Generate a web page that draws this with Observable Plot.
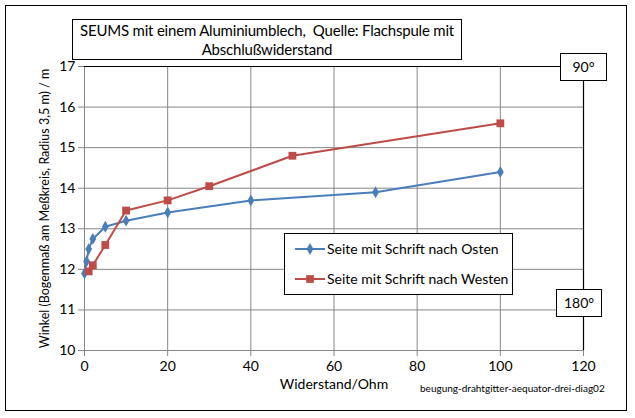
<!DOCTYPE html>
<html>
<head>
<meta charset="utf-8">
<script src="https://cdn.jsdelivr.net/npm/d3@7"></script>
<script src="https://cdn.jsdelivr.net/npm/@observablehq/plot@0.6"></script>
<style>
  html, body { margin: 0; padding: 0; background: #fff; }
  #wrap { position: relative; width: 635px; height: 418px; font-family: Lato, "Open Sans", sans-serif; }
  #wrap svg { position: absolute; left: 0; top: 0; }
  .box { position: absolute; background: #fff; border: 1.3px solid #000; box-sizing: border-box; color: #000; white-space: pre; }
  #outer { position: absolute; left: 5px; top: 5px; width: 622px; height: 406px; border: 1.5px solid #000; box-sizing: border-box; }
</style>
</head>
<body>
<div id="wrap">
  <div id="outer"></div>
</div>
<script>
const titleLines = ["SEUMS mit einem Aluminiumblech,  Quelle: Flachspule mit", "Abschlußwiderstand"];
const seriesNames = ["Seite mit Schrift nach Osten", "Seite mit Schrift nach Westen"];
const eastX = [0, 0.5, 1, 2, 5, 10, 20, 40, 70, 100];
const eastY = [11.9, 12.2, 12.5, 12.75, 13.05, 13.2, 13.4, 13.7, 13.9, 14.4];
const westX = [1, 2, 5, 10, 20, 30, 50, 100];
const westY = [11.95, 12.1, 12.6, 13.45, 13.7, 14.05, 14.8, 15.6];
const xTicks = [0, 20, 40, 60, 80, 100, 120];
const yTicks = [10, 11, 12, 13, 14, 15, 16, 17];
const xLabel = "Widerstand/Ohm";
const yLabel = "Winkel (Bogenmaß am Meßkreis, Radius 3,5 m) / m";
const topNote = "90°";
const bottomNote = "180°";
const caption = "beugung-drahtgitter-aequator-drei-diag02";

const blue = "#4a7ebb", red = "#be4b48", grid = "#868686";
const east = eastX.map((x, i) => ({x, y: eastY[i]}));
const west = westX.map((x, i) => ({x, y: westY[i]}));

const chart = Plot.plot({
  width: 635, height: 418,
  marginLeft: 84, marginRight: 52, marginTop: 66, marginBottom: 68,
  style: {fontFamily: "Lato, 'Open Sans', sans-serif", fontSize: "14px", color: "#000", background: "transparent"},
  x: {domain: [0, 120], ticks: xTicks, label: null},
  y: {domain: [10, 17], ticks: yTicks, label: null},
  marks: [
    Plot.gridX(xTicks, {stroke: grid, strokeOpacity: 1, strokeWidth: 1}),
    Plot.gridY(yTicks, {stroke: grid, strokeOpacity: 1, strokeWidth: 1}),
    Plot.ruleX([0], {stroke: grid}),
    Plot.ruleY([10], {stroke: grid}),
    Plot.ruleX([120], {stroke: "#000", strokeWidth: 1.2}),
    Plot.ruleY([17], {stroke: "#000", strokeWidth: 1.2}),
    Plot.axisX({ticks: xTicks, tickFormat: d3.format("d"), tickSize: 6, tickPadding: 5, stroke: grid, fontSize: 14, label: xLabel, labelAnchor: "center", labelArrow: "none", labelOffset: 38}),
    Plot.axisY({ticks: yTicks, tickFormat: d3.format("d"), tickSize: 6, tickPadding: 3, stroke: grid, fontSize: 14, label: null}),
    Plot.axisY({ticks: [], tickSize: 0, label: yLabel, labelAnchor: "center", labelArrow: "none", labelOffset: 44, fontSize: 12.5}),
    Plot.line(east, {x: "x", y: "y", stroke: blue, strokeWidth: 2}),
    Plot.dot(east, {x: "x", y: "y", symbol: "diamond", r: 3.6, fill: blue}),
    Plot.line(west, {x: "x", y: "y", stroke: red, strokeWidth: 2}),
    Plot.dot(west, {x: "x", y: "y", symbol: "square", r: 4.4, fill: red})
  ]
});
chart.querySelectorAll("text").forEach(t => t.setAttribute("fill", "#000"));
const wrap = document.getElementById("wrap");
wrap.appendChild(chart);

function addBox(left, top, w, h, html, extra) {
  const d = document.createElement("div");
  d.className = "box";
  Object.assign(d.style, {left: left + "px", top: top + "px", width: w + "px", height: h + "px"}, extra || {});
  d.textContent = html;
  wrap.appendChild(d);
  return d;
}
addBox(72, 19, 390, 41, titleLines.join("\n"), {fontSize: "15px", letterSpacing: "-0.2px", lineHeight: "19px", textAlign: "center", paddingTop: "1px"});
addBox(560, 53, 47, 28, topNote, {fontSize: "14px", textAlign: "center", lineHeight: "26px"});
addBox(556, 289, 46, 28, bottomNote, {fontSize: "14px", textAlign: "center", lineHeight: "26px"});

// legend
const leg = addBox(284, 233, 229, 62, "", {fontSize: "14px"});
const legSvg = d3.create("svg").attr("width", 229).attr("height", 62).style("position", "absolute").style("left", "-1px").style("top", "-1px");
const legItems = [{name: seriesNames[0], color: blue, sym: d3.symbolDiamond, size: 40}, {name: seriesNames[1], color: red, sym: d3.symbolSquare, size: 60}];
legItems.forEach((it, i) => {
  const y = 16 + i * 30;
  legSvg.append("line").attr("x1", 11).attr("x2", 41).attr("y1", y).attr("y2", y).attr("stroke", it.color).attr("stroke-width", 2);
  legSvg.append("path").attr("d", d3.symbol(it.sym, it.size)()).attr("transform", `translate(26,${y})`).attr("fill", it.color);
  legSvg.append("text").attr("x", 43).attr("y", y + 5).attr("font-size", 14).attr("font-family", "Lato, 'Open Sans', sans-serif").attr("fill", "#000").text(it.name);
});
leg.appendChild(legSvg.node());

const cap = document.createElement("div");
Object.assign(cap.style, {position: "absolute", left: "420px", top: "382px", fontSize: "10px", color: "#000"});
cap.textContent = caption;
wrap.appendChild(cap);
</script>
</body>
</html>
